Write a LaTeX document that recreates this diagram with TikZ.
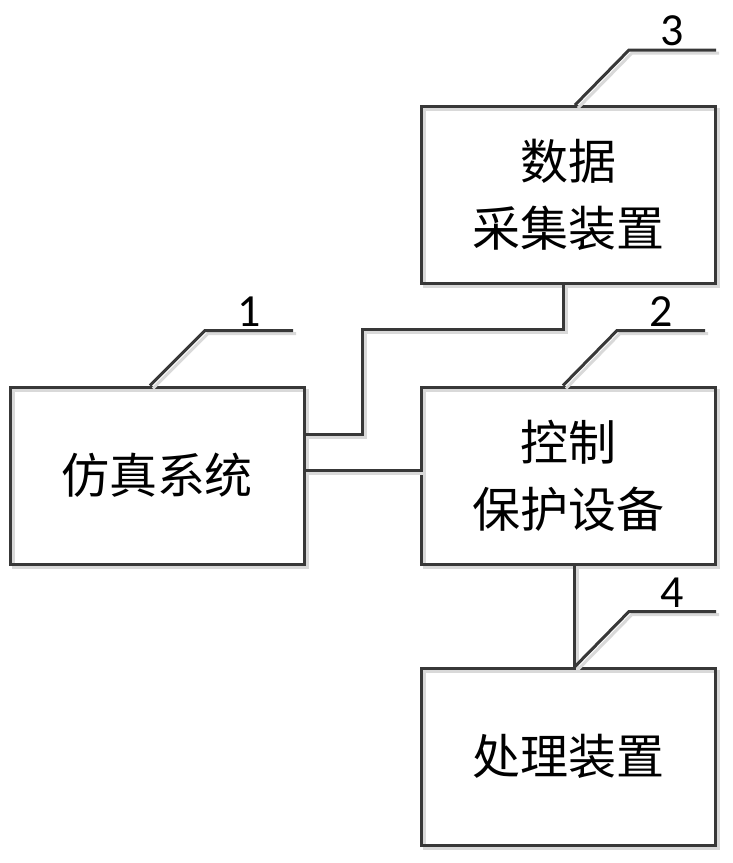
\documentclass[tikz,border=0pt]{standalone}
\usepackage{fontspec}
\setmainfont{Carlito}
\newfontfamily\cjk{Noto Sans CJK SC}
\usetikzlibrary{calc}

\begin{document}
\begin{tikzpicture}[x=1pt,y=-1pt]
\tikzset{block/.style = {shape=rectangle,draw=black!78,line width=3pt,minimum width=294pt,minimum height=177pt,align=center,font=\cjk\fontsize{48}{67}\selectfont,
  preaction={draw=black!15,line width=3pt,transform canvas={shift={(3pt,-3pt)}}}}}
\tikzset{wire/.style = {draw=black!78,line width=3pt,
  preaction={draw=black!15,line width=3pt,transform canvas={shift={(3pt,-3pt)}}}}}
\tikzset{tag/.style = {midway,above,inner sep=3pt,font=\fontsize{46}{46}\selectfont}}

\useasboundingbox (0,0) rectangle (733,863);

\node[block] (sim) at (157,475.5) {仿真系统};
\node[block] (acq) at (568,195) {数据\\采集装置};
\node[block] (ctrl) at (568,475.5) {控制\\保护设备};
\node[block] (proc) at (568,756.5) {处理装置};

%edges
\draw[wire] ([yshift=41.5pt]sim.east) -| (362,329) -| ([xshift=-5pt]acq.south);
\draw[wire] ([yshift=5.5pt]sim.east) -- ([yshift=5.5pt]ctrl.west);
\draw[wire] ([xshift=6pt]ctrl.south) -- ([xshift=6pt]proc.north);

%labels
\draw[wire] ([xshift=-7pt]sim.north) -- ++(55,-55) -- ++(88,0) node[tag] {1};
\draw[wire] ([xshift=-5pt]ctrl.north) -- ++(54,-55) -- ++(88,0) node[tag] {2};
\draw[wire] ([xshift=7pt]acq.north) -- ++(54,-55) -- ++(87,0) node[tag] {3};
\draw[wire] ([xshift=7pt]proc.north) -- ++(54,-55) -- ++(87,0) node[tag] {4};

\end{tikzpicture}
\end{document}
